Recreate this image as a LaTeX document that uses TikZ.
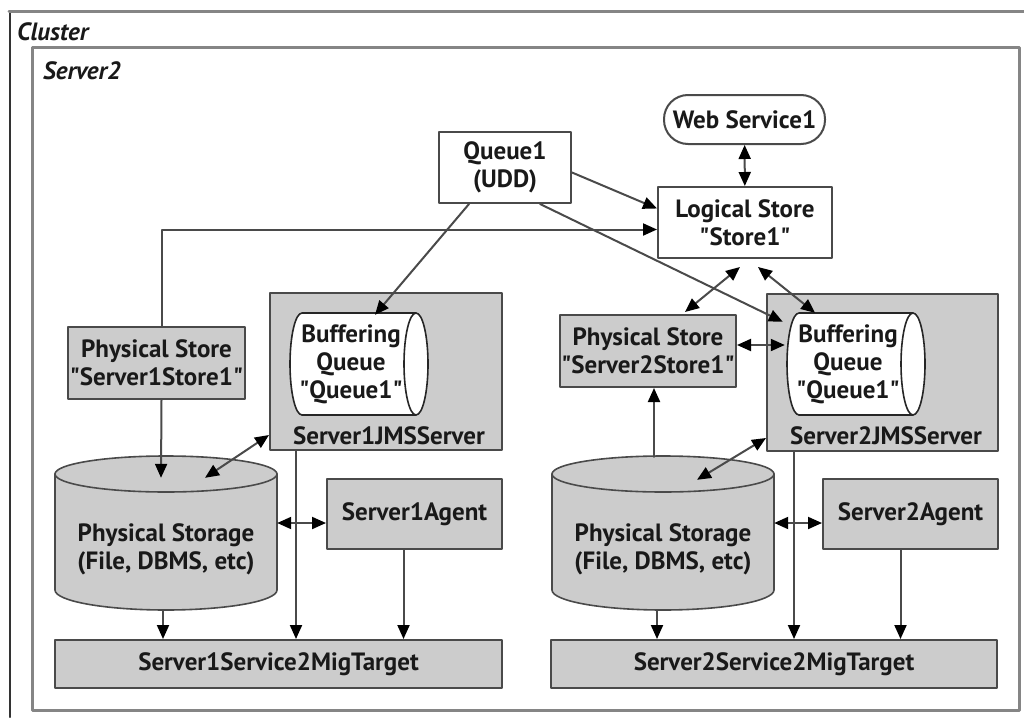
\documentclass[tikz,border=0pt]{standalone}
\usepackage{fontspec}
\setmainfont{PT Sans}[BoldFont={PT Sans Bold}, ItalicFont={PT Sans Italic}, BoldItalicFont={PT Sans Bold Italic}]
\usetikzlibrary{arrows.meta}
\definecolor{boxgray}{HTML}{CCCCCC}
\definecolor{linegray}{HTML}{4A4A4A}
\definecolor{framegray}{HTML}{858585}
\newcommand{\qt}{\textquotedbl}
\tikzset{
  txt/.style={align=center, inner sep=0pt, text=black!90, font=\bfseries\fontsize{25}{28}\selectfont},
  box/.style={txt, draw=linegray, line width=2pt, fill=boxgray},
  whitebox/.style={box, fill=white},
  conn/.style={draw=linegray, line width=2pt, -{Triangle[length=14pt,width=12pt,black]}},
  bidir/.style={draw=linegray, line width=2pt, {Triangle[length=14pt,width=12pt,black]}-{Triangle[length=14pt,width=12pt,black]}},
  cylline/.style={draw=black!85, line width=1.6pt},
}
\begin{document}
\begin{tikzpicture}[line cap=round,line join=round,x=1pt,y=-1pt]
\useasboundingbox (0,0) rectangle (1024,717);
% cluster and server frames
\draw[black!80, line width=2pt] (10,717) -- (10,12);
\draw[framegray, line width=3pt] (9,12) -- (1024,12);
\node[txt, font=\bfseries\itshape\fontsize{25}{28}\selectfont, anchor=west] (cluster) at (17,32) {Cluster};
\node[draw=framegray, line width=3pt, minimum width=987, minimum height=662, inner sep=0pt] (server) at (525.5,379) {};
\node[txt, font=\bfseries\itshape\fontsize{25}{28}\selectfont, anchor=west] (servername) at (43,71) {Server2};
% JMS servers
\node[box, minimum width=232, minimum height=157] (jms1) at (386,371.5) {};
\node[box, minimum width=231, minimum height=157] (jms2) at (882.5,372.5) {};
\node[txt] (jms1name) at (389,436) {Server1JMSServer};
\node[txt] (jms2name) at (886,436) {Server2JMSServer};
% buffering queues
\fill[white] (416,313) -- (302,313) arc[start angle=270, end angle=90, x radius=12, y radius=51] -- (416,415);
\draw[cylline] (416,313) -- (302,313) arc[start angle=270, end angle=90, x radius=12, y radius=51] -- (416,415);
\draw[cylline, fill=white] (416,364) ellipse[x radius=12, y radius=51];
\fill[white] (913,313) -- (799,313) arc[start angle=270, end angle=90, x radius=12, y radius=51] -- (913,415);
\draw[cylline] (913,313) -- (799,313) arc[start angle=270, end angle=90, x radius=12, y radius=51] -- (913,415);
\draw[cylline, fill=white] (913,364) ellipse[x radius=12, y radius=51];
\node[txt, minimum width=126, minimum height=102] (bq1) at (351,364) {Buffering\\Queue\\\qt Queue1\qt};
\node[txt, minimum width=126, minimum height=102] (bq2) at (848,364) {Buffering\\Queue\\\qt Queue1\qt};
% physical storage
\fill[boxgray] (55,474) -- (55,590) arc[start angle=180, end angle=0, x radius=111, y radius=20] -- (277,474) -- cycle;
\draw[cylline, draw=linegray] (55,474) -- (55,590) arc[start angle=180, end angle=0, x radius=111, y radius=20] -- (277,474);
\draw[cylline, draw=linegray, fill=boxgray] (166,474) ellipse[x radius=111, y radius=18];
\fill[boxgray] (552,474) -- (552,590) arc[start angle=180, end angle=0, x radius=111, y radius=20] -- (774,474) -- cycle;
\draw[cylline, draw=linegray] (552,474) -- (552,590) arc[start angle=180, end angle=0, x radius=111, y radius=20] -- (774,474);
\draw[cylline, draw=linegray, fill=boxgray] (663,474) ellipse[x radius=111, y radius=18];
\node[txt, minimum width=222, minimum height=122] (stor1) at (166,549) {Physical Storage\\(File, DBMS, etc)};
\node[txt, minimum width=222, minimum height=122] (stor2) at (663,549) {Physical Storage\\(File, DBMS, etc)};
% other nodes
\node[whitebox, rounded corners=24pt, minimum width=161, minimum height=49] (ws) at (744.5,119.5) {Web Service1};
\node[whitebox, minimum width=132, minimum height=71] (queue) at (505,167.5) {Queue1\\(UDD)};
\node[whitebox, minimum width=174, minimum height=71] (ls) at (745,222.5) {Logical Store\\\qt Store1\qt};
\node[box, minimum width=177, minimum height=72] (ps1) at (156.5,363) {Physical Store\\\qt Server1Store1\qt};
\node[box, minimum width=176, minimum height=72] (ps2) at (648,351) {Physical Store\\\qt Server2Store1\qt};
\node[box, minimum width=175, minimum height=70] (agent1) at (414.5,514) {Server1Agent};
\node[box, minimum width=175, minimum height=70] (agent2) at (910.5,514) {Server2Agent};
\node[box, minimum width=447, minimum height=48] (target1) at (278.5,664) {Server1Service2MigTarget};
\node[box, minimum width=446, minimum height=48] (target2) at (774,664) {Server2Service2MigTarget};
% connectors
\draw[bidir] (ws) -- (ls);
\draw[conn] ([yshift=-5pt]queue.east) -- ([yshift=14pt]ls.west);
\draw[conn] ([xshift=5pt]ps1.north) |- ([yshift=-7pt]ls.west);
\draw[conn] ([xshift=-36pt]queue.south) -- ([xshift=24pt,yshift=-2pt]bq1.north);
\draw[conn] ([xshift=35pt]queue.south) -- ([xshift=-2pt,yshift=-9pt]bq2.north west);
\draw[bidir] ([xshift=-5pt,yshift=-8pt]ls.south) -- ([xshift=37pt,yshift=2pt]ps2.north);
\draw[bidir] ([xshift=13pt,yshift=-8pt]ls.south) -- ([xshift=-33pt]bq2.north);
\draw[bidir] ([yshift=6pt]ps2.east) -- ([yshift=6pt]ps2.east -| bq2.west);
\draw[conn] ([xshift=5pt]ps1.south) -- ([xshift=-5pt,yshift=10pt]stor1.north);
\draw[conn] ([xshift=-9pt,yshift=31pt]stor2.north) -- ([xshift=6pt]ps2.south);
\draw[bidir] ([xshift=39pt,yshift=10pt]stor1.north) -- ([yshift=16pt]jms1.south west);
\draw[bidir] ([xshift=34pt,yshift=8pt]stor2.north) -- ([yshift=14pt]jms2.south west);
\draw[bidir] ([yshift=26pt]stor1.east) -- ([yshift=26pt]stor1.east -| agent1.west);
\draw[bidir] ([yshift=26pt]stor2.east) -- ([yshift=26pt]stor2.east -| agent2.west);
\draw[conn] ([xshift=-3pt]stor1.south) -- ([xshift=-3pt]stor1.south |- target1.north);
\draw[conn] ([xshift=-6pt]stor2.south) -- ([xshift=-6pt]stor2.south |- target2.north);
\draw[conn] ([xshift=27pt]jms1.south west) -- ([xshift=27pt]jms1.south west |- target1.north);
\draw[conn] ([xshift=28pt]jms2.south west) -- ([xshift=28pt]jms2.south west |- target2.north);
\draw[conn] ([xshift=-11pt]agent1.south) -- ([xshift=-11pt]agent1.south |- target1.north);
\draw[conn] ([xshift=-10pt]agent2.south) -- ([xshift=-10pt]agent2.south |- target2.north);
\end{tikzpicture}
\end{document}
